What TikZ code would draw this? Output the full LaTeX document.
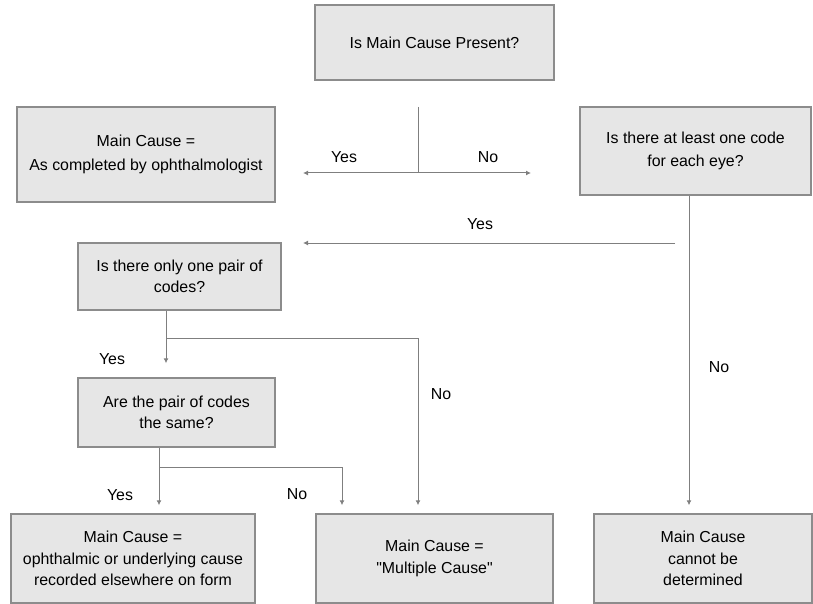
\documentclass[tikz,border=0pt]{standalone}
\usepackage{fontspec}
\setmainfont{Liberation Sans}[Ligatures=TeXOff]
\usetikzlibrary{arrows.meta}
\definecolor{boxfill}{HTML}{E6E6E6}
\definecolor{boxline}{HTML}{8C8C8C}
\definecolor{wire}{HTML}{7F7F7F}
\begin{document}
\begin{tikzpicture}[x=1pt,y=-1pt,
  box/.style={draw=boxline,line width=1.4pt,fill=boxfill,inner sep=0pt,align=center,font=\fontsize{15.9}{21.5}\selectfont,text=black},
  link/.style={draw=wire,line width=1pt,-{Latex[length=5pt,width=5pt]},shorten >=8pt},
  plain/.style={draw=wire,line width=1pt},
  lbl/.style={font=\fontsize{15.9}{19}\selectfont,text=black}]
\useasboundingbox (0,0) rectangle (813,604);
\node[box,minimum width=239pt,minimum height=75pt] (present) at (434.5,42.5) {Is Main Cause Present?};
\node[box,minimum width=258pt,minimum height=95pt] (asdone) at (146,154.5) {Main Cause =\\[2pt] As completed by ophthalmologist};
\node[box,minimum width=231pt,minimum height=88pt] (eachEye) at (695.5,151) {Is there at least one code\\[2pt] for each eye?};
\node[box,minimum width=203pt,minimum height=67pt] (onePair) at (179.5,276.5) {Is there only one pair of\\ codes?};
\node[box,minimum width=197pt,minimum height=69pt] (samePair) at (176.5,412.5) {Are the pair of codes\\ the same?};
\node[box,minimum width=244pt,minimum height=89pt] (elsewhere) at (133,558.5) {Main Cause =\\ ophthalmic or underlying cause\\ recorded elsewhere on form};
\node[box,minimum width=237pt,minimum height=89pt] (multiple) at (434.5,558.5) {Main Cause =\\ "Multiple Cause"};
\node[box,minimum width=218pt,minimum height=89pt] (undetermined) at (703,558.5) {Main Cause\\ cannot be\\ determined};
% junction points
\coordinate (split) at (418,107); \coordinate (fork) at (418,173); \coordinate (yesTip) at (303,173); \coordinate (noTip) at (531,173);
\coordinate (rx) at (689,0); \coordinate (yesFrom) at (675,243); \coordinate (yesTo) at (303,243);
\coordinate (lx) at (166,338); \coordinate (mx) at (418,338); \coordinate (bx) at (159,467); \coordinate (nx) at (342,467);
\draw[plain] (split) -- (fork);
\draw[plain,{Latex[length=5pt,width=5pt]}-{Latex[length=5pt,width=5pt]}] (yesTip) -- (noTip);
\draw[link] (eachEye.south -| rx) -- (undetermined.north -| rx);
\draw[plain,-{Latex[length=5pt,width=5pt]}] (yesFrom) -- (yesTo);
\draw[link,shorten >=14pt] (onePair.south -| lx) -- (samePair.north -| lx);
\draw[link] (lx) -- (mx) -- (multiple.north -| mx);
\draw[link] (samePair.south -| bx) -- (elsewhere.north -| bx);
\draw[link] (bx) -- (nx) -- (multiple.north -| nx);
\node[lbl] (yesA) at (344,157) {Yes}; \node[lbl] (noA) at (488,157) {No}; \node[lbl] (yesB) at (480,224) {Yes};
\node[lbl] (yesC) at (112,359) {Yes}; \node[lbl] (noB) at (441,394) {No}; \node[lbl] (noC) at (719,367) {No};
\node[lbl] (yesD) at (120,495) {Yes}; \node[lbl] (noD) at (297,494) {No};
\end{tikzpicture}
\end{document}
